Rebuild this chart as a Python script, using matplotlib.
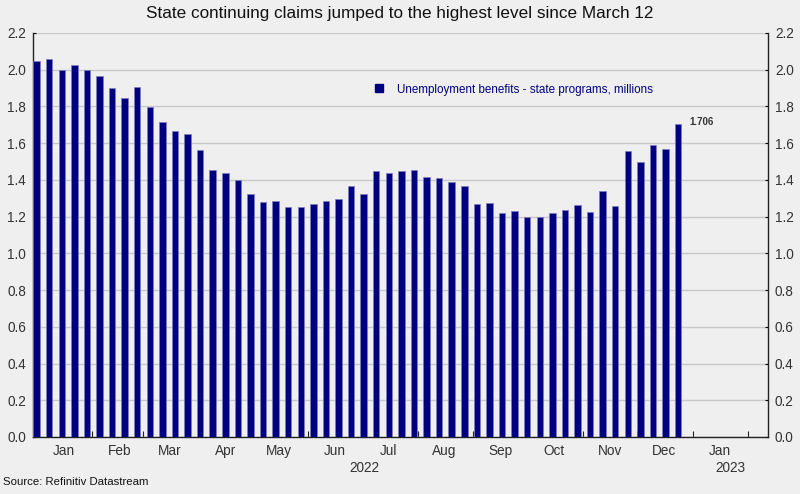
import numpy as np
import pandas as pd
import matplotlib
matplotlib.use("Agg")
import matplotlib.pyplot as plt
import matplotlib.dates as mdates
from matplotlib.lines import Line2D
from matplotlib.transforms import blended_transform_factory

# ------------------------------------------------------------
# Data: state continuing claims, weekly, millions
# ------------------------------------------------------------
claims = [2.047, 2.056, 2.000, 2.027, 1.996, 1.965, 1.902, 1.845, 1.905, 1.798,
          1.713, 1.664, 1.649, 1.565, 1.456, 1.435, 1.400, 1.325, 1.278, 1.284,
          1.251, 1.255, 1.269, 1.285, 1.298, 1.369, 1.322, 1.447, 1.440, 1.451,
          1.455, 1.418, 1.409, 1.387, 1.365, 1.269, 1.276, 1.222, 1.229, 1.199,
          1.196, 1.222, 1.236, 1.262, 1.225, 1.338, 1.258, 1.558, 1.498, 1.589,
          1.571, 1.706]
weeks = pd.date_range("2022-01-01", periods=len(claims), freq="7D")
series_label = "Unemployment benefits - state programs, millions"
years = ["2022", "2023"]

plt.rcParams["font.family"] = ["Liberation Sans", "DejaVu Sans"]
bg = "#efefef"
navy = "#000080"

fig = plt.figure(figsize=(8, 4.94), dpi=100, facecolor=bg)
ax = fig.add_axes([0.04125, 0.1154, 0.91875, 0.8178], facecolor=bg)

ax.bar(weeks, claims, width=3.6, color=navy, edgecolor="#7f7fbf", linewidth=0.5, zorder=3)

# last value label
ax.annotate(f"{claims[-1]:.3f}", (weeks[-1], claims[-1]), xytext=(8, -1),
            textcoords="offset points", fontsize=7, fontweight="bold", color="#333333")

ax.set_ylim(0, 2.2)
ax.set_yticks(np.arange(0, 2.21, 0.2))
ax.yaxis.set_major_formatter(matplotlib.ticker.FormatStrFormatter("%.1f"))
ax.set_xlim(pd.Timestamp("2021-12-30"), pd.Timestamp("2023-02-12"))

ax.grid(axis="y", color="#c8c8c8", linewidth=1, zorder=0)
ax.spines["top"].set_visible(False)
for s in ["left", "right", "bottom"]:
    ax.spines[s].set_color("#222222")
    ax.spines[s].set_linewidth(1)

# month boundaries as ticks, month names in the middle
ax.xaxis.set_major_locator(mdates.MonthLocator())
ax.xaxis.set_major_formatter(matplotlib.ticker.NullFormatter())
ax.xaxis.set_minor_locator(mdates.MonthLocator(bymonthday=16))
ax.xaxis.set_minor_formatter(mdates.DateFormatter("%b"))
ax.tick_params(axis="x", which="major", direction="in", length=4, color="#222222")
ax.tick_params(axis="x", which="minor", length=0, labelsize=9.8, labelcolor="#333333", pad=5)
ax.tick_params(axis="y", which="major", direction="in", length=2.5, labelsize=9.8,
               labelcolor="#333333", left=True, right=True, labelleft=True, labelright=True, pad=5)

# year labels centred on each visible year
tr = blended_transform_factory(ax.transData, ax.transAxes)
lo, hi = ax.get_xlim()
for yr in years:
    a = max(mdates.date2num(pd.Timestamp(f"{yr}-01-01")), lo)
    b = min(mdates.date2num(pd.Timestamp(f"{int(yr) + 1}-01-01")), hi)
    ax.text((a + b) / 2, -0.077, yr, transform=tr, ha="center", va="center",
            fontsize=9.8, color="#333333")

handle = Line2D([], [], marker="s", linestyle="none", color=navy, markersize=6)
leg = ax.legend([handle], [series_label], loc="center left", bbox_to_anchor=(0.44, 0.86),
                frameon=False, fontsize=8.4, labelcolor=navy, handletextpad=0.6)

fig.suptitle("State continuing claims jumped to the highest level since March 12",
             fontsize=12.3, y=0.987, color="#111111")
fig.text(0.004, 0.018, "Source: Refinitiv Datastream", fontsize=8.2, color="#111111")

fig.savefig("out.png", dpi=100, facecolor=bg)
